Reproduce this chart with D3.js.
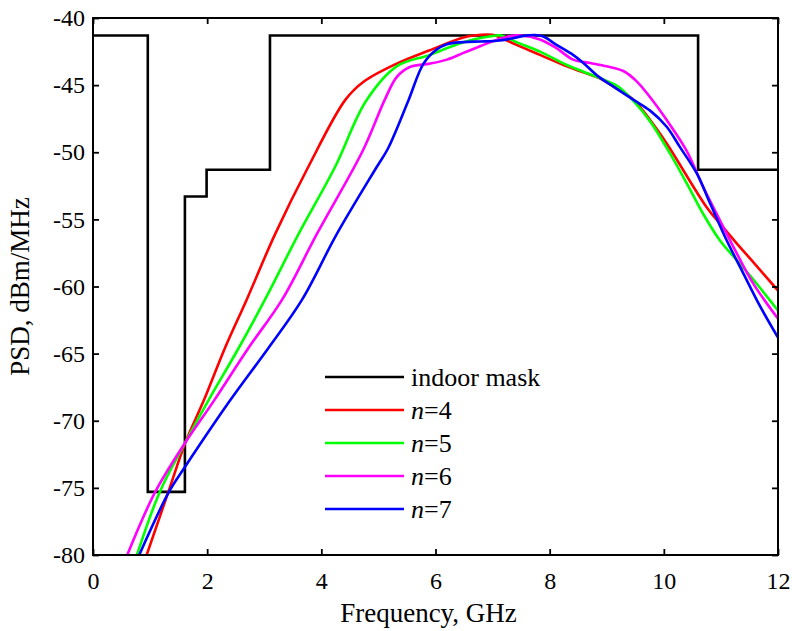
<!DOCTYPE html>
<html>
<head>
<meta charset="utf-8">
<script src="https://cdn.jsdelivr.net/npm/d3@7/dist/d3.min.js"></script>
<style>
  html, body { margin: 0; padding: 0; background: #fff; }
  svg { display: block; }
  text { font-family: "Liberation Serif", "DejaVu Serif", serif; fill: #000; }
</style>
</head>
<body>
<svg id="chart" width="792" height="631"></svg>
<script>
// Indoor emission mask (step breakpoints, GHz / dBm/MHz)
const maskPoints = [
  [0, -41.3], [0.96, -75.3], [1.61, -53.3], [1.99, -51.3],
  [3.1, -41.3], [10.6, -51.3], [12, -51.3]
];

// PSD curves for pulse orders n = 4..7
const psdN4 = [
  [0.94, -80], [1.32, -75.3], [1.62, -71.6], [1.94, -68.5], [2.31, -64.6],
  [2.69, -61.0], [3.19, -56.1], [3.77, -51.1], [4.42, -46.1],
  [4.74, -44.75], [5.32, -43.4], [5.90, -42.4], [6.49, -41.45], [6.8, -41.25],
  [7.0, -41.25], [7.13, -41.45], [7.42, -42.0], [7.83, -42.75], [8.30, -43.6],
  [8.59, -44.05], [8.88, -44.5], [9.17, -45.25], [9.47, -46.1], [9.76, -47.6],
  [10.05, -49.35], [10.75, -54.1], [10.98, -55.3], [11.28, -56.8],
  [11.57, -58.2], [12, -60.3]
];
const psdN5 = [
  [0.77, -80], [1.17, -75.3], [1.62, -71.6], [2.02, -68.5], [2.55, -64.6],
  [3.01, -61.0], [3.60, -56.1], [4.24, -51.1], [4.78, -46.2],
  [5.32, -43.6], [5.90, -42.75], [6.49, -41.8], [7.07, -41.3], [7.15, -41.3],
  [7.42, -41.8], [7.83, -42.5], [8.30, -43.5], [8.59, -44.0], [8.95, -44.6],
  [9.2, -45.1], [9.47, -46.2], [9.76, -47.7], [10.11, -50.1], [10.40, -52.3],
  [10.69, -54.6], [10.98, -56.55], [11.28, -58.05], [11.57, -59.5], [12, -61.8]
];
const psdN6 = [
  [0.60, -80], [1.09, -75.3], [1.62, -71.6], [2.12, -68.5], [2.72, -64.6],
  [3.31, -61.0], [3.92, -56.1], [4.73, -49.85],
  [5.11, -46.1], [5.32, -44.4], [5.55, -43.65], [5.90, -43.4], [6.20, -43.1],
  [6.49, -42.6], [6.78, -42.1], [7.25, -41.4], [7.5, -41.3], [7.83, -41.6],
  [8.12, -42.25], [8.41, -43.1], [8.71, -43.35], [9.0, -43.6], [9.29, -43.95],
  [9.52, -44.7], [9.76, -45.9], [10.05, -47.6], [10.4, -49.9], [10.69, -52.6],
  [10.98, -55.05], [11.28, -57.55], [11.57, -59.8], [12, -62.4]
];
const psdN7 = [
  [0.81, -80], [1.33, -75.3], [1.61, -73.45], [2.40, -68.5], [3.07, -64.6],
  [3.66, -61.0], [4.27, -56.1], [4.97, -51.1], [5.17, -49.7],
  [5.52, -46.2], [5.79, -43.4], [6.02, -42.35], [6.20, -41.95], [6.49, -41.8],
  [6.78, -41.75], [7.07, -41.7], [7.31, -41.55], [7.55, -41.33], [7.75, -41.27],
  [7.9, -41.4], [8.12, -42.0], [8.41, -42.75], [8.59, -43.35], [8.85, -44.35],
  [9.15, -45.2], [9.47, -46.1], [9.76, -46.9], [10.05, -48.1], [10.28, -49.6],
  [10.58, -51.6], [10.81, -53.8], [11.1, -56.55], [11.39, -59.0],
  [11.69, -61.5], [12, -63.8]
];

const xTicks = [0, 2, 4, 6, 8, 10, 12];
const yTicks = [-80, -75, -70, -65, -60, -55, -50, -45, -40];

const series = [
  { label: "4", color: "#ff0000", data: psdN4 },
  { label: "5", color: "#00ff00", data: psdN5 },
  { label: "6", color: "#ff00ff", data: psdN6 },
  { label: "7", color: "#0000ff", data: psdN7 }
];

const FONT = '"Liberation Serif", "DejaVu Serif", serif';
const margin = { left: 93, top: 18, right: 14, bottom: 76 };
const W = 792, H = 631;
const iw = W - margin.left - margin.right;
const ih = H - margin.top - margin.bottom;

const svg = d3.select("#chart");
const g = svg.append("g").attr("transform", `translate(${margin.left},${margin.top})`);

const x = d3.scaleLinear().domain([0, 12]).range([0, iw]);
const y = d3.scaleLinear().domain([-80, -40]).range([ih, 0]);

svg.append("defs").append("clipPath").attr("id", "plotClip")
  .append("rect").attr("x", 0).attr("y", 0).attr("width", iw).attr("height", ih);

const plot = g.append("g").attr("clip-path", "url(#plotClip)");

// mask
const maskLine = d3.line().x(d => x(d[0])).y(d => y(d[1])).curve(d3.curveStepAfter);
plot.append("path")
  .datum(maskPoints)
  .attr("d", maskLine)
  .attr("fill", "none")
  .attr("stroke", "#000")
  .attr("stroke-width", 2.6);

// PSD curves
const curveLine = d3.line().x(d => x(d[0])).y(d => y(d[1])).curve(d3.curveCatmullRom.alpha(0.5));
series.forEach(s => {
  plot.append("path")
    .datum(s.data)
    .attr("d", curveLine)
    .attr("fill", "none")
    .attr("stroke", s.color)
    .attr("stroke-width", 2.6)
    .attr("stroke-linejoin", "round");
});

// axes with inward ticks on all four sides
const tickLen = 6;
const axisStyle = sel => {
  sel.attr("font-family", FONT).attr("font-size", 24);
  sel.select(".domain").remove();
  sel.selectAll(".tick line").attr("stroke", "#000").attr("stroke-width", 1.8);
  sel.selectAll(".tick text").attr("fill", "#000");
};

g.append("g").attr("transform", `translate(0,${ih})`)
  .call(d3.axisBottom(x).tickValues(xTicks).tickSize(-tickLen).tickPadding(17).tickFormat(d3.format("d")))
  .call(axisStyle);
g.append("g")
  .call(d3.axisTop(x).tickValues(xTicks).tickSize(-tickLen).tickFormat(""))
  .call(axisStyle);
g.append("g")
  .call(d3.axisLeft(y).tickValues(yTicks).tickSize(-tickLen).tickPadding(8).tickFormat(d => String(d)))
  .call(axisStyle);
g.append("g").attr("transform", `translate(${iw},0)`)
  .call(d3.axisRight(y).tickValues(yTicks).tickSize(-tickLen).tickFormat(""))
  .call(axisStyle);

// frame
g.append("rect")
  .attr("x", 0).attr("y", 0).attr("width", iw).attr("height", ih)
  .attr("fill", "none").attr("stroke", "#000").attr("stroke-width", 2);

// axis titles
g.append("text")
  .attr("x", (iw / 2) - 7).attr("y", ih + 67)
  .attr("text-anchor", "middle")
  .style("font-size", "27px")
  .text("Frequency, GHz");
g.append("text")
  .attr("transform", `translate(${-64},${ih / 2}) rotate(-90)`)
  .attr("text-anchor", "middle")
  .style("font-size", "27px")
  .text("PSD, dBm/MHz");

// legend
const legend = g.append("g").attr("transform", `translate(${325 - margin.left},${377 - margin.top})`);
const legendItems = [{ text: "indoor mask", color: "#000" }].concat(series.map(s => ({ n: s.label, color: s.color })));
legendItems.forEach((item, i) => {
  const row = legend.append("g").attr("transform", `translate(0,${i * 33})`);
  row.append("line")
    .attr("x1", 0).attr("x2", 79).attr("y1", 0).attr("y2", 0)
    .attr("stroke", item.color).attr("stroke-width", 2.6);
  const t = row.append("text").attr("x", 86).attr("y", 9).style("font-size", "26px");
  if (item.text) {
    t.text(item.text);
  } else {
    t.append("tspan").style("font-style", "italic").text("n");
    t.append("tspan").text("=" + item.n);
  }
});
</script>
</body>
</html>
